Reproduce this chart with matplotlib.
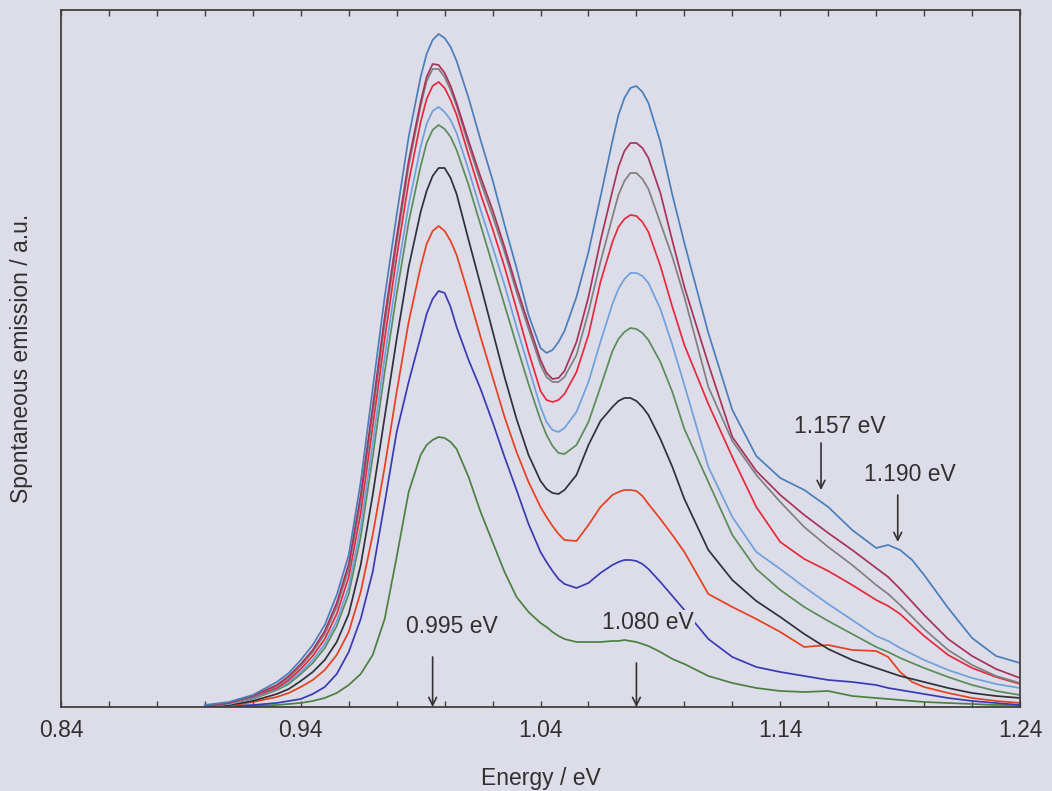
import numpy as np
import matplotlib
matplotlib.use("Agg")
import matplotlib.pyplot as plt

plt.rcParams['font.family'] = ['Liberation Sans', 'DejaVu Sans']

# Photon energy grid (eV)
energy = [0.90, 0.91, 0.92, 0.93, 0.935, 0.94, 0.945, 0.95, 0.955, 0.96,
          0.965, 0.97, 0.975, 0.98, 0.985, 0.99,
          0.9925, 0.995, 0.9975, 1.00, 1.0025, 1.005,
          1.01, 1.015, 1.02, 1.025, 1.03, 1.035, 1.04,
          1.0425, 1.045, 1.0475, 1.05,
          1.055, 1.06, 1.065, 1.07,
          1.0725, 1.075, 1.0775, 1.08, 1.0825, 1.085,
          1.09, 1.095, 1.10,
          1.11, 1.12, 1.13, 1.14, 1.15, 1.16, 1.17, 1.18,
          1.185, 1.19, 1.195, 1.20,
          1.21, 1.22, 1.23, 1.24]

# Spontaneous emission spectra (a.u.), highest to lowest
s1 = [2, 5, 12, 25, 34, 47, 62, 82, 112, 152, 225, 318, 410, 492, 570, 630,
      653, 667, 673, 669, 660, 646,
      609, 567, 527, 482, 439, 392, 359,
      354, 357, 365, 376,
      410, 455, 510, 566,
      592, 609, 619, 621, 615, 604,
      565, 512, 464,
      374, 297, 251, 229, 217, 200, 177, 159,
      162, 157, 147, 132,
      99, 69, 51, 44]
s2 = [1, 4, 11, 22, 31, 43, 57, 76, 104, 143, 212, 300, 390, 470, 546, 605,
      630, 643, 642, 634, 621, 604,
      566, 530, 497, 460, 420, 383, 347,
      334, 328, 329, 336,
      365, 410, 466, 516,
      540, 556, 564, 564, 559, 549,
      514, 466, 420,
      343, 270, 236, 212, 192, 174, 157, 139,
      130, 118, 105, 92,
      68, 51, 38, 29]
s3 = [1, 4, 10, 21, 29, 41, 55, 73, 100, 138, 205, 293, 383, 464, 541, 601,
      626, 638, 638, 630, 617, 601,
      562, 525, 491, 455, 415, 378, 342,
      330, 325, 325, 330,
      352, 395, 445, 490,
      512, 526, 534, 534, 528, 518,
      484, 450, 410,
      320, 266, 232, 205, 180, 160, 142, 122,
      113, 102, 90, 78,
      57, 42, 31, 24]
s4 = [1, 4, 10, 19, 27, 38, 51, 68, 93, 130, 194, 280, 368, 450, 525, 585,
      608, 621, 625, 619, 607, 592,
      552, 513, 478, 440, 398, 355, 316,
      307, 305, 307, 313,
      335, 372, 425, 465,
      480, 488, 492, 491, 485, 475,
      441, 400, 362,
      303, 250, 200, 165, 148, 136, 122, 107,
      101, 93, 82, 71,
      52, 39, 30, 23]
s5 = [1, 3, 9, 18, 25, 35, 47, 63, 86, 120, 180, 263, 350, 430, 502, 560,
      583, 596, 600, 595, 587, 574,
      537, 497, 460, 422, 380, 340, 300,
      285, 277, 275, 279,
      295, 325, 365, 403,
      418, 428, 434, 434, 431, 424,
      398, 362, 322,
      240, 190, 155, 138, 120, 103, 87, 71,
      66, 59, 53, 47,
      37, 29, 23, 19]
s6 = [1, 3, 8, 17, 23, 33, 44, 59, 81, 113, 170, 250, 335, 413, 485, 541,
      564, 577, 582, 578, 570, 557,
      522, 482, 442, 402, 362, 323, 287,
      272, 261, 254, 253,
      262, 285, 320, 356,
      368, 375, 379, 378, 374, 367,
      345, 315, 278,
      225, 172, 138, 117, 100, 86, 73, 60,
      55, 49, 44, 39,
      30, 22, 16, 12]
s7 = [0, 2, 6, 13, 18, 26, 35, 47, 65, 93, 142, 212, 290, 368, 440, 495,
      516, 531, 539, 539, 529, 513,
      467, 422, 376, 330, 288, 252, 226,
      218, 214, 213, 217,
      232, 262, 286, 300,
      306, 309, 309, 306, 300, 292,
      268, 240, 208,
      157, 127, 106, 90, 73, 58, 47, 39,
      35, 31, 28, 25,
      19, 14, 11, 9]
s8 = [0, 1, 5, 10, 14, 20, 27, 37, 52, 75, 115, 172, 240, 315, 385, 440,
      463, 476, 481, 476, 466, 452,
      412, 370, 330, 290, 255, 225, 200,
      190, 181, 173, 167,
      166, 182, 200, 212,
      215, 217, 217, 216, 211, 203,
      188, 172, 155,
      113, 100, 88, 75, 60, 62, 57, 56,
      50, 35, 25, 20,
      14, 9, 6, 4]
s9 = [0, 1, 2, 4, 6, 8, 13, 20, 33, 55, 88, 135, 204, 275, 325, 370,
      393, 408, 416, 414, 400, 380,
      347, 318, 285, 250, 217, 183, 155,
      145, 136, 128, 123,
      119, 124, 134, 142,
      145, 147, 147, 146, 143, 138,
      125, 111, 97,
      68, 50, 40, 35, 31, 27, 25, 22,
      19, 17, 15, 13,
      9, 6, 4, 2]
s10 = [0, 0, 1, 2, 3, 4, 6, 9, 14, 22, 33, 52, 88, 150, 215, 252,
       262, 267, 270, 269, 265, 258,
       230, 195, 165, 135, 110, 95, 84,
       80, 75, 71, 68,
       65, 65, 65, 66,
       66, 67, 66, 65, 63, 61,
       55, 48, 43,
       31, 24, 19, 16, 15, 16, 11, 9,
       8, 7, 6, 5,
       4, 3, 2, 2]

series = [s1, s2, s3, s4, s5, s6, s7, s8, s9, s10]
colors = ['#4a7ebb', '#a8325a', '#808080', '#e8283c', '#6fa0dc',
          '#5a8c5a', '#303038', '#e8401e', '#3a3ab4', '#4a8040']

# Peak annotations
peak_labels = ['0.995 eV', '1.080 eV', '1.157 eV', '1.190 eV']
peak_x = [0.995, 1.080, 1.157, 1.189]
arrow_from = [50, 44, 264, 212]
arrow_to = [0, 0, 217, 165]
label_x = [1.0032, 1.0849, 1.165, 1.194]
label_y = [80, 84, 280, 232]

xticks_major = [0.84, 0.94, 1.04, 1.14, 1.24]

bg = '#dcdde8'
text_c = '#303030'
fig = plt.figure(figsize=(10.52, 7.91), dpi=100, facecolor=bg)
ax = fig.add_axes([0.058, 0.1062, 0.9116, 0.8812], facecolor=bg)

for s, c in reversed(list(zip(series, colors))):
    ax.plot(energy, s, color=c, lw=1.25, solid_joinstyle='round')

for lab, px, a0, a1, tx, ty in zip(peak_labels, peak_x, arrow_from, arrow_to, label_x, label_y):
    ax.annotate('', xy=(px, a1), xytext=(px, a0),
                arrowprops=dict(arrowstyle='->', color='#333333', lw=1.2,
                                shrinkA=0, shrinkB=0, mutation_scale=14))
    ax.text(tx, ty, lab, ha='center', va='center', fontsize=16.5, color=text_c,
            bbox=dict(boxstyle='square,pad=0.05', fc=bg, ec='none'))

ax.set_xlim(0.84, 1.24)
ax.set_ylim(0, 697)
ax.set_xticks(xticks_major)
ax.set_xticklabels([f'{v:.2f}' for v in xticks_major])
ax.set_xticks(np.arange(0.86, 1.24, 0.02), minor=True)
ax.tick_params(axis='x', which='both', direction='in', top=True, bottom=True,
               length=4, width=1, color='#404040', labelsize=16.5, labelcolor=text_c, pad=9)
ax.set_yticks([])
for sp in ax.spines.values():
    sp.set_color('#404040')
    sp.set_linewidth(1.3)

ax.set_xlabel('Energy / eV', fontsize=16.5, color=text_c, labelpad=18)
ax.set_ylabel('Spontaneous emission / a.u.', fontsize=16.5, color=text_c, labelpad=20)

fig.savefig('out.png', dpi=100, facecolor=bg)
